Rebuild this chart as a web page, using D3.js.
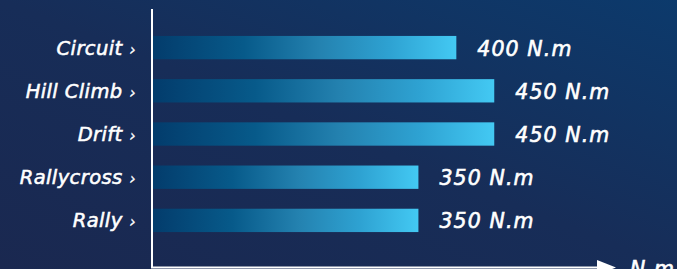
<!doctype html>
<html lang="en">
<head>
<meta charset="utf-8">
<title>Torque by discipline</title>
<script src="https://cdn.jsdelivr.net/npm/d3@7"></script>
<style>
html, body { margin: 0; padding: 0; overflow: hidden; }
body { width: 677px; height: 269px; }
svg { display: block; }
.cat { font-family: "DejaVu Sans", sans-serif; font-style: italic; font-size: 19.5px; fill: #fff; stroke: #fff; stroke-width: 0.55px; letter-spacing: 0.4px; }
.cat tspan { font-size: 16px; stroke-width: 0.2px; }
.val { font-family: "DejaVu Sans", sans-serif; font-style: italic; font-size: 20.5px; fill: #fff; stroke: #fff; stroke-width: 0.6px; letter-spacing: 1.1px; }
</style>
</head>
<body>
<svg id="chart" width="677" height="269"></svg>
<script>
// disciplines, top to bottom
const categories = ["Circuit", "Hill Climb", "Drift", "Rallycross", "Rally"];
// torque in N.m
const torque = [400, 450, 450, 350, 350];
const unit = "N.m";

const W = 677, H = 269;
const svg = d3.select("#chart");
const defs = svg.append("defs");

// background: navy, bluer towards top right
const bg = defs.append("linearGradient").attr("id", "bg")
  .attr("x1", "0%").attr("y1", "100%").attr("x2", "100%").attr("y2", "0%");
bg.append("stop").attr("offset", "0%").attr("stop-color", "#1a2850");
bg.append("stop").attr("offset", "50%").attr("stop-color", "#172d58");
bg.append("stop").attr("offset", "100%").attr("stop-color", "#0c3a6c");
svg.append("rect").attr("width", W).attr("height", H).attr("fill", "url(#bg)");

// bar fill, dark blue to cyan
const bar = defs.append("linearGradient").attr("id", "bar")
  .attr("x1", "0%").attr("x2", "100%");
bar.append("stop").attr("offset", "0%").attr("stop-color", "#033c6c");
bar.append("stop").attr("offset", "30%").attr("stop-color", "#075a8a");
bar.append("stop").attr("offset", "55%").attr("stop-color", "#2482b0");
bar.append("stop").attr("offset", "78%").attr("stop-color", "#2ea2d2");
bar.append("stop").attr("offset", "100%").attr("stop-color", "#43c9f3");

const x0 = 153;
const x = d3.scaleLinear().domain([0, 600]).range([x0, x0 + 455]);
const y = d3.scaleBand().domain(categories).range([26, 242]).paddingInner(0.46).paddingOuter(0.23);

svg.selectAll("rect.bar").data(categories).enter().append("rect")
  .attr("class", "bar")
  .attr("x", x0)
  .attr("y", d => y(d))
  .attr("width", (d, i) => x(torque[i]) - x0)
  .attr("height", y.bandwidth())
  .attr("fill", "url(#bar)");

const cat = svg.selectAll("text.cat").data(categories).enter().append("text")
  .attr("class", "cat")
  .attr("x", 136)
  .attr("y", d => y(d) + y.bandwidth() / 2 + 7)
  .attr("text-anchor", "end")
  .text(d => d + " ");
cat.append("tspan").text("\u203a");

svg.selectAll("text.val").data(categories).enter().append("text")
  .attr("class", "val")
  .attr("x", (d, i) => x(torque[i]) + 21)
  .attr("y", d => y(d) + y.bandwidth() / 2 + 8)
  .text((d, i) => torque[i] + " " + unit);

// axes
svg.append("line").attr("x1", 152).attr("x2", 152).attr("y1", 9).attr("y2", 268)
  .attr("stroke", "#fff").attr("stroke-width", 2);
svg.append("line").attr("x1", 151).attr("x2", 600).attr("y1", 267.5).attr("y2", 267.5)
  .attr("stroke", "#fff").attr("stroke-width", 2);
svg.append("path").attr("d", "M597,260 L616,267.5 L597,275 Z").attr("fill", "#fff");
svg.append("text").attr("class", "val").attr("x", 630).attr("y", 276).text(unit);
</script>
</body>
</html>
